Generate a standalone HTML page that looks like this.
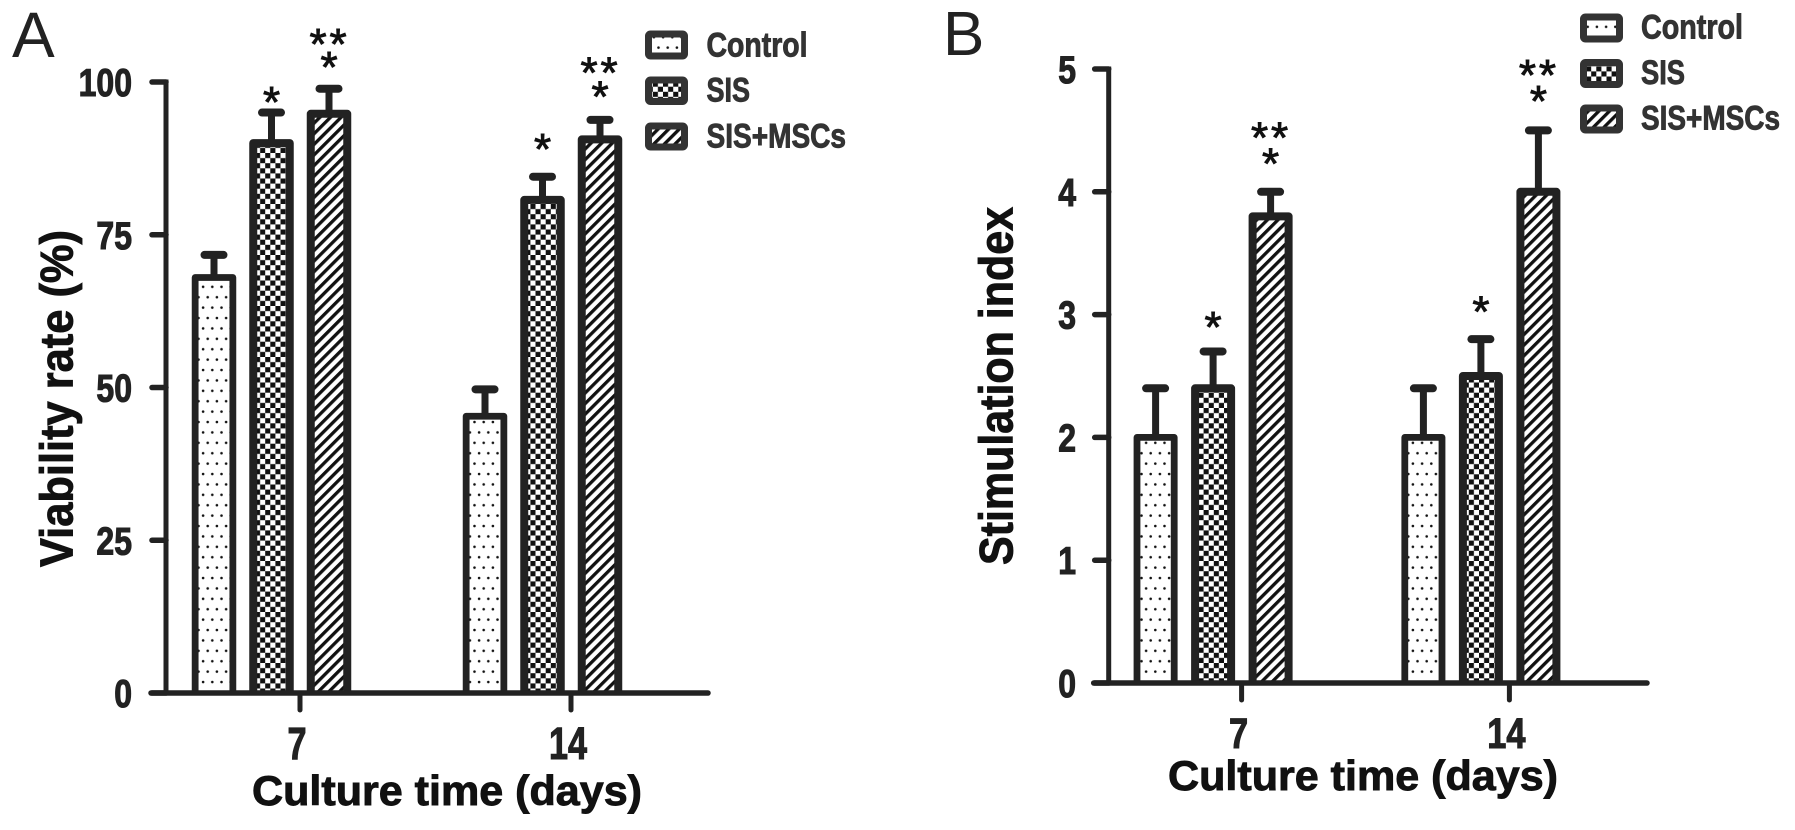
<!DOCTYPE html>
<html lang="en">
<head>
<meta charset="utf-8">
<title>Viability rate and stimulation index</title>
<style>
html,body{margin:0;padding:0;background:#fff;width:1795px;height:830px;overflow:hidden}
svg{display:block}
text{font-family:"Liberation Sans",sans-serif}
.b{font-weight:700;paint-order:stroke}
.t{stroke:#111;stroke-width:0.9}
.l{stroke:#333;stroke-width:0.9}
</style>
</head>
<body>
<svg id="fig" xmlns="http://www.w3.org/2000/svg" width="1795" height="830" viewBox="0 0 1795 830">
<defs>
<pattern id="dots" width="9.2" height="20.8" patternUnits="userSpaceOnUse" patternTransform="translate(3 3)">
<rect width="9.2" height="20.8" fill="#fff"/>
<circle cx="2.3" cy="3" r="1.3" fill="#111"/>
<circle cx="6.9" cy="13.4" r="1.3" fill="#111"/>
</pattern>
<pattern id="check" width="10.2" height="10.2" patternUnits="userSpaceOnUse">
<rect width="10.2" height="10.2" fill="#fff"/>
<rect width="5.1" height="5.1" fill="#111"/>
<rect x="5.1" y="5.1" width="5.1" height="5.1" fill="#111"/>
</pattern>
<pattern id="hatch" width="7.5" height="7.5" patternUnits="userSpaceOnUse" patternTransform="rotate(45)">
<rect width="7.5" height="7.5" fill="#fff"/>
<rect width="3.3" height="7.5" fill="#111"/>
</pattern>
</defs>

<text x="12" y="57" font-size="64" fill="#222">A</text>
<text x="943" y="55" font-size="62" fill="#222">B</text>

<text class="b t" transform="translate(72.5 567) rotate(-90)" font-size="46" textLength="337" lengthAdjust="spacingAndGlyphs" fill="#111">Viability rate (%)</text>
<text class="b t" transform="translate(1012.5 565) rotate(-90)" font-size="47" textLength="358" lengthAdjust="spacingAndGlyphs" fill="#111">Stimulation index</text>

<text class="b t" x="252" y="805" font-size="42" textLength="390" lengthAdjust="spacingAndGlyphs" fill="#111">Culture time (days)</text>
<text class="b t" x="1168" y="790" font-size="42" textLength="390" lengthAdjust="spacingAndGlyphs" fill="#111">Culture time (days)</text>

<g>
<rect x="648.5" y="34" width="36" height="22" rx="2" fill="url(#dots)" stroke="#333" stroke-width="7"/>
<text class="b l" x="706.5" y="56.5" font-size="34" textLength="101" lengthAdjust="spacingAndGlyphs" fill="#333">Control</text>
<rect x="648.5" y="80" width="36" height="21.5" rx="2" fill="url(#check)" stroke="#333" stroke-width="7"/>
<text class="b l" x="706.5" y="101.5" font-size="34" textLength="43.5" lengthAdjust="spacingAndGlyphs" fill="#333">SIS</text>
<rect x="648.5" y="126" width="36" height="21" rx="2" fill="url(#hatch)" stroke="#333" stroke-width="7"/>
<text class="b l" x="706.5" y="147.5" font-size="34" textLength="139.5" lengthAdjust="spacingAndGlyphs" fill="#333">SIS+MSCs</text>
</g>

<g>
<rect x="1583.5" y="17" width="36" height="22" rx="2" fill="url(#dots)" stroke="#333" stroke-width="7"/>
<text class="b l" x="1641" y="38.5" font-size="34" textLength="102" lengthAdjust="spacingAndGlyphs" fill="#333">Control</text>
<rect x="1583.5" y="62.5" width="36" height="22" rx="2" fill="url(#check)" stroke="#333" stroke-width="7"/>
<text class="b l" x="1641" y="84" font-size="34" textLength="44" lengthAdjust="spacingAndGlyphs" fill="#333">SIS</text>
<rect x="1583.5" y="108" width="36" height="22" rx="2" fill="url(#hatch)" stroke="#333" stroke-width="7"/>
<text class="b l" x="1641" y="129.5" font-size="34" textLength="139" lengthAdjust="spacingAndGlyphs" fill="#333">SIS+MSCs</text>
</g>
</svg>

<script>
// Shared categories and series
const categories = ['7', '14'];
const seriesNames = ['control', 'sis', 'sis-mscs'];

// Panel A: viability rate (%)
const yTicksA = [0, 25, 50, 75, 100];
const controlA = [68, 45.3];
const sisA = [90, 80.7];
const mscA = [94.8, 90.6];
const controlErrTopA = [71.7, 49.7];
const sisErrTopA = [95, 84.5];
const mscErrTopA = [98.9, 93.8];

// Panel B: stimulation index
const yTicksB = [0, 1, 2, 3, 4, 5];
const controlB = [2, 2];
const sisB = [2.4, 2.5];
const mscB = [3.8, 4];
const controlErrTopB = [2.4, 2.4];
const sisErrTopB = [2.7, 2.8];
const mscErrTopB = [4, 4.5];

const NS = 'http://www.w3.org/2000/svg';
const fig = document.getElementById('fig');
const INK = '#222';
const fills = ['url(#dots)', 'url(#check)', 'url(#hatch)'];
const barOffsets = [-86, -28.5, 29];
const barStrokes = [6.8, 8, 8];

function mk(parent, tag, attrs, name) {
  const el = document.createElementNS(NS, tag);
  for (const k in attrs) el.setAttribute(k, attrs[k]);
  
  
  parent.appendChild(el);
  return el;
}

function drawPanel(p) {
  const g = mk(fig, 'g', {}, p.id + '-chart');
  const y = v => p.y0 - (v - p.vMin) * (p.y0 - p.yTop) / (p.vMax - p.vMin);
  const x = i => p.catX[0] + i * (p.catX[1] - p.catX[0]);

  // bars and error bars
  p.series.forEach((vals, s) => {
    vals.forEach((v, c) => {
      const cx = x(c) + barOffsets[s];
      const w = p.barW - barStrokes[s];
      const errY = y(p.errs[s][c]);
      mk(g, 'line', {x1: cx, x2: cx, y1: y(v), y2: errY, stroke: INK, 'stroke-width': 7}, 'error-bar-' + seriesNames[s] + '-' + categories[c]);
      mk(g, 'line', {x1: cx - 9.5, x2: cx + 9.5, y1: errY, y2: errY, stroke: INK, 'stroke-width': 8, 'stroke-linecap': 'round'}, 'error-cap-' + seriesNames[s] + '-' + categories[c]);
      mk(g, 'path', {d: 'M' + (cx - w / 2) + ' ' + y(0) + 'V' + y(v) + 'H' + (cx + w / 2) + 'V' + y(0),
        fill: fills[s], stroke: INK, 'stroke-width': barStrokes[s], 'stroke-linejoin': 'round'}, 'bar-' + seriesNames[s] + '-' + categories[c]);

      // significance marks, placed above the error cap
      const gaps = p.starGaps[s][c];
      if (gaps.length === 1) star(g, cx, errY - gaps[0]);
      if (gaps.length === 2) {
        star(g, cx, errY - gaps[0]);
        star(g, cx - 11, errY - gaps[1]);
        star(g, cx + 9, errY - gaps[1]);
      }
    });
  });

  // axes
  mk(g, 'line', {x1: p.axisX, x2: p.axisX, y1: y(p.vMax) - 2.5, y2: y(0), stroke: INK, 'stroke-width': 5}, 'y-axis-line');
  mk(g, 'line', {x1: p.axisX - 15, x2: p.xEnd, y1: y(0), y2: y(0), stroke: INK, 'stroke-width': 5.5, 'stroke-linecap': 'round'}, 'x-axis-line');

  p.yTicks.forEach(t => {
    mk(g, 'line', {x1: p.axisX - 14, x2: p.axisX, y1: y(t), y2: y(t), stroke: INK, 'stroke-width': 5.5, 'stroke-linecap': 'round'}, 'y-tick-' + t);
    const lab = mk(g, 'text', {transform: 'translate(' + p.yLabelRight + ' ' + (y(t) + 14) + ') scale(0.82 1)',
      'text-anchor': 'end', 'font-size': 39, 'font-weight': 700, fill: INK, stroke: INK, 'stroke-width': 1.1}, 'y-tick-label-' + t);
    lab.textContent = t;
  });

  categories.forEach((name, c) => {
    mk(g, 'line', {x1: x(c), x2: x(c), y1: y(0), y2: y(0) + 17, stroke: INK, 'stroke-width': 5, 'stroke-linecap': 'round'}, 'x-tick-' + name);
    const lab = mk(g, 'text', {transform: 'translate(' + (x(c) + p.xLabelShift) + ' ' + p.xLabelY + ') scale(' + p.xLabelScale + ' 1)',
      'text-anchor': 'middle', 'font-size': p.xLabelSize, 'font-weight': 700, fill: INK, stroke: INK, 'stroke-width': 1.1}, 'x-tick-label-' + name);
    lab.textContent = name;
  });
}

function star(parent, cx, cy) {
  const t = mk(parent, 'text', {x: cx, y: cy + 21.5, 'text-anchor': 'middle', 'font-size': 44, fill: '#111', stroke: '#111', 'stroke-width': 0.9}, 'significance-star');
  t.textContent = '*';
}

drawPanel({
  id: 'panel-a', y0: 693, yTop: 82, vMin: 0, vMax: 100,
  catX: [300, 571], axisX: 166, xEnd: 708, barW: 44.5,
  yTicks: yTicksA, yLabelRight: 132,
  xLabelY: 759, xLabelSize: 45, xLabelScale: 0.76, xLabelShift: -3,
  series: [controlA, sisA, mscA],
  errs: [controlErrTopA, sisErrTopA, mscErrTopA],
  starGaps: [[[], []], [[17], [34]], [[28, 51], [30, 54]]]
});

drawPanel({
  id: 'panel-b', y0: 683, yTop: 69, vMin: 0, vMax: 5,
  catX: [1241.6, 1509.4], axisX: 1108.7, xEnd: 1647, barW: 44,
  yTicks: yTicksB, yLabelRight: 1076,
  xLabelY: 748, xLabelSize: 43, xLabelScale: 0.8, xLabelShift: -3,
  series: [controlB, sisB, mscB],
  errs: [controlErrTopB, sisErrTopB, mscErrTopB],
  starGaps: [[[], []], [[31], [34]], [[35, 61], [36, 62]]]
});
</script>
</body>
</html>
